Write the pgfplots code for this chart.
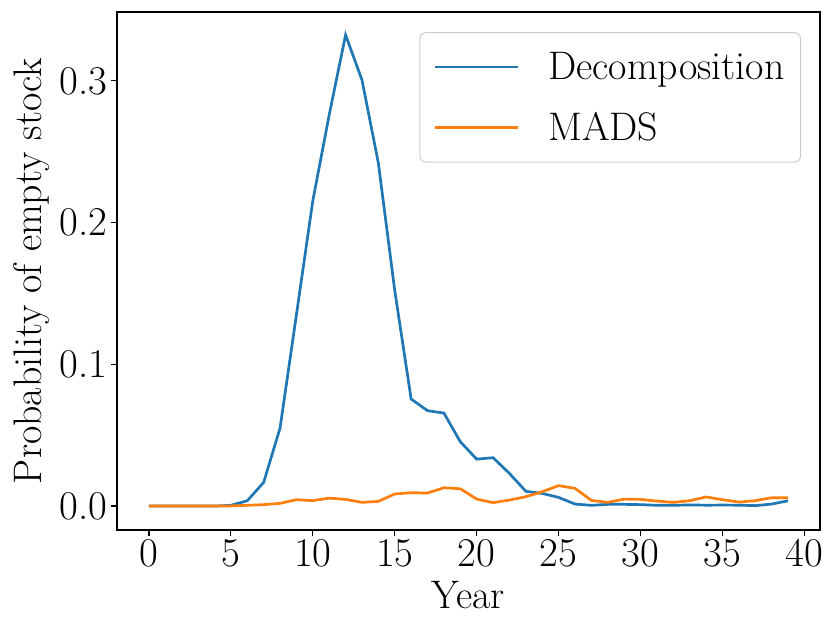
\documentclass[border=0pt]{standalone}
\usepackage{pgfplots}
\pgfplotsset{compat=1.18}
\definecolor{c0}{HTML}{1F77B4}
\definecolor{c1}{HTML}{FF7F0E}
\begin{document}
\begin{tikzpicture}[font=\fontsize{41}{49}\selectfont]
\useasboundingbox (-117bp,-93bp) rectangle (713bp,530bp);
\begin{axis}[
  at={(0,0)}, anchor=south west,
  scale only axis, width=703bp, height=518bp,
  xmin=-1.95, xmax=40.95, ymin=-0.0169, ymax=0.3486,
  xtick={0,5,...,40}, ytick={0,0.1,0.2,0.3},
  /pgf/number format/assume math mode=true,
  yticklabel style={/pgf/number format/fixed,/pgf/number format/fixed zerofill,/pgf/number format/precision=1},
  scaled y ticks=false,
  tick align=outside, tick pos=lower,
  major tick length=6bp,
  every tick/.style={black, line width=1.2bp},
  axis line style={line width=1.3bp},
  xlabel={Year}, ylabel={Probability of empty stock},
  xlabel style={at={(axis description cs:0.5,0)}, anchor=base, yshift=-78bp, font=\fontsize{40}{48}\selectfont},
  ylabel style={at={(axis description cs:0,0.5)}, anchor=base, yshift=75bp, font=\fontsize{40}{48}\selectfont},
  legend cell align=left,
  legend style={at={(0.973,0.961)}, anchor=north east, draw=black!20, line width=1bp, rounded corners=6bp,
    inner xsep=14bp, inner ysep=18bp, row sep=27bp, font=\fontsize{40}{48}\selectfont},
  legend image code/.code={\draw[#1, line width=2.7bp] (0bp,0bp) -- (83bp,0bp); \path[draw=none] (0bp,0bp) -- (111bp,0bp);},
]
\addplot[c0, line width=2.7bp] coordinates {
(0,0) (1,0) (2,0) (3,0) (4,0) (5,0.0005) (6,0.0037) (7,0.0167) (8,0.055) (9,0.135)
(10,0.2155) (11,0.276) (12,0.3324) (13,0.3006) (14,0.242) (15,0.152) (16,0.0755) (17,0.0673) (18,0.0656) (19,0.0454)
(20,0.0331) (21,0.0341) (22,0.023) (23,0.0104) (24,0.0089) (25,0.0061) (26,0.0014) (27,0.0005) (28,0.0012) (29,0.0012)
(30,0.0010) (31,0.0005) (32,0.0005) (33,0.0008) (34,0.0006) (35,0.0007) (36,0.0006) (37,0.0003) (38,0.0014) (39,0.0037)
};
\addlegendentry{Decomposition}
\addplot[c1, line width=2.7bp] coordinates {
(0,0) (1,0) (2,0) (3,0) (4,0) (5,0.0001) (6,0.0005) (7,0.001) (8,0.0019) (9,0.0045)
(10,0.0038) (11,0.0056) (12,0.0047) (13,0.0026) (14,0.0033) (15,0.0085) (16,0.0094) (17,0.0092) (18,0.0129) (19,0.0122)
(20,0.0049) (21,0.0024) (22,0.0042) (23,0.0066) (24,0.0101) (25,0.0144) (26,0.0125) (27,0.004) (28,0.0026) (29,0.0049)
(30,0.0047) (31,0.0035) (32,0.0026) (33,0.0038) (34,0.0064) (35,0.0045) (36,0.0028) (37,0.0038) (38,0.0059) (39,0.0059)
};
\addlegendentry{MADS}
\end{axis}
\end{tikzpicture}
\end{document}
